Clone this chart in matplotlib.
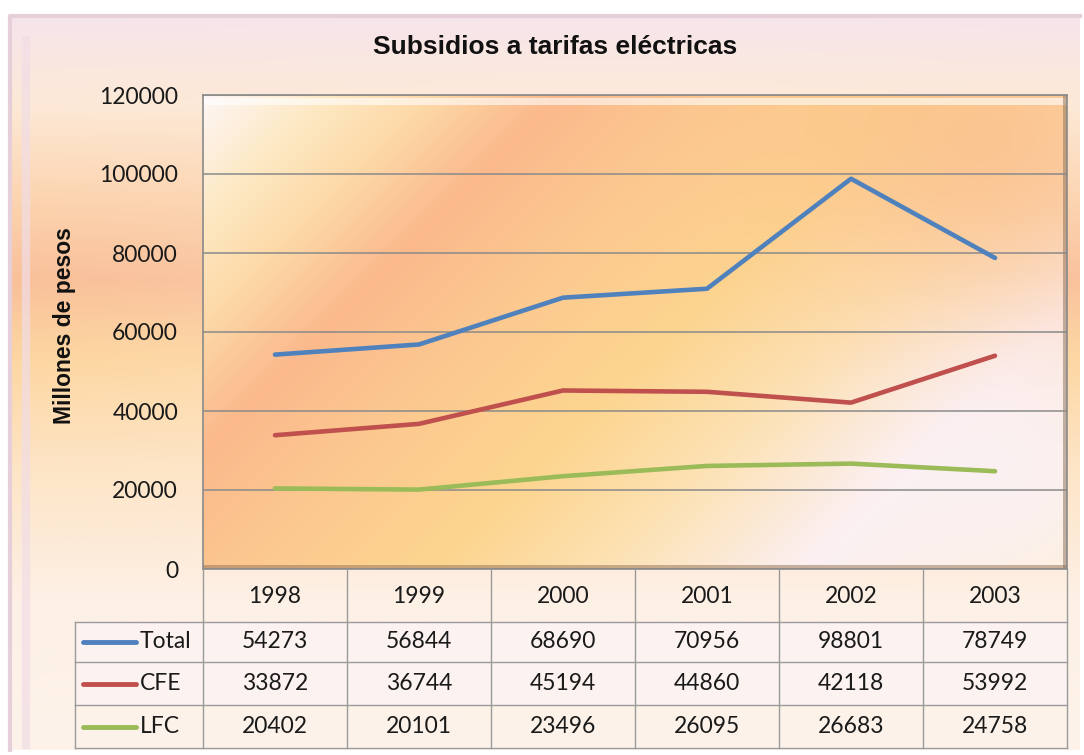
import matplotlib.pyplot as plt
import numpy as np
from matplotlib.colors import to_rgb

years = ["1998", "1999", "2000", "2001", "2002", "2003"]
total = [54273, 56844, 68690, 70956, 98801, 78749]
cfe = [33872, 36744, 45194, 44860, 42118, 53992]
lfc = [20402, 20101, 23496, 26095, 26683, 24758]
series = [("Total", total, "#4f81bd"), ("CFE", cfe, "#c0504d"), ("LFC", lfc, "#9bbb59")]

W, H = 1084, 755
fig = plt.figure(figsize=(W / 100, H / 100), dpi=100)
fig.patch.set_facecolor("white")


def fx(px):
    return px / W


def fy(py):
    return 1 - py / H


def ramp(stops, t):
    pos = [s[0] for s in stops]
    cols = np.array([to_rgb(s[1]) for s in stops])
    return np.stack([np.interp(t, pos, cols[:, i]) for i in range(3)], axis=-1)


def blend(img, gx, gy, cx, cy, rx, ry, col, amt):
    w = amt * np.exp(-(((gx - cx) / rx) ** 2 + ((gy - cy) / ry) ** 2))[..., None]
    return img * (1 - w) + np.array(to_rgb(col)) * w


# outer chart background (vertical gradient)
bg = fig.add_axes([0, 0, 1, 1])
bg.set_xlim(0, W)
bg.set_ylim(H, 0)
bg.set_axis_off()
py, px = np.mgrid[0:H:4, 0:W:4].astype(float)
bg_img = ramp([(0, "#f6e4ec"), (90, "#fde9d6"), (190, "#fcd3ae"), (270, "#f9bf98"),
               (350, "#fdd6a0"), (460, "#fde4c4"), (600, "#fdf0e6"), (755, "#fdf3ea")], py)
bg_img = blend(bg_img, px, py, 600, 300, 330, 260, "#fdf0e4", 0.45)
bg.imshow(bg_img, extent=[10, 1080, 750, 16], aspect="auto", interpolation="bilinear")
bg.plot([10, 10, 1080], [750, 16, 16], color="#e6cfd8", lw=3)
bg.plot([26, 26], [40, 745], color="#f1dde6", lw=6, alpha=0.7)

# plot area
L, R, T, B = 203, 1067, 95, 569
ax = fig.add_axes([fx(L), fy(B), (R - L) / W, (B - T) / H])
gy, gx = np.mgrid[T:B:2, L:R:2].astype(float)
t = ((gx - L) + (gy - T)) / np.sqrt(2)
pa = ramp([(0, "#fdf6f6"), (90, "#fee8c2"), (160, "#fdd9a8"), (250, "#fbb98c"),
           (360, "#fcc890"), (500, "#fdd590"), (620, "#fde2b4"), (760, "#fbf0f3"),
           (950, "#fdf0dc")], t)
pa = blend(pa, gx, gy, 1000, 150, 220, 170, "#fbbd8a", 0.75)
pa = blend(pa, gx, gy, 1010, 470, 120, 110, "#fbf2f7", 0.6)
ax.imshow(pa, extent=[-0.5, 5.5, 0, 120000], aspect="auto", zorder=0, interpolation="bilinear")
# bevel edges
ax.axhspan(117500, 119200, color="white", alpha=0.6, zorder=1, lw=0)
ax.axhspan(0, 1000, color="#9c7a5c", alpha=0.55, zorder=1, lw=0)
ax.axvspan(5.47, 5.5, color="#8a6e58", alpha=0.5, zorder=1, lw=0)

x = np.arange(len(years))
for name, vals, col in series:
    ax.plot(x, vals, color=col, lw=3.3, solid_capstyle="round", zorder=3)

ax.set_xlim(-0.5, 5.5)
ax.set_ylim(0, 120000)
ax.set_yticks(range(0, 120001, 20000))
ax.set_yticklabels([str(v) for v in range(0, 120001, 20000)], fontsize=16.5,
                   fontfamily="Lato", color="#1a1a1a")
ax.tick_params(axis="y", length=0, pad=18)
ax.set_xticks([])
ax.grid(axis="y", color="#8a8a8a", lw=1.1, zorder=2)
for s in ax.spines.values():
    s.set_color("#8a8a8a")
    s.set_linewidth(1.2)

fig.text(fx(555), fy(47), "Subsidios a tarifas eléctricas", ha="center", va="center",
         fontsize=19, fontweight="bold", fontfamily="Liberation Sans", color="#111111")
fig.text(fx(64), fy(326), "Millones de pesos", ha="center", va="center", rotation=90,
         fontsize=16.5, fontweight="bold", fontfamily="Liberation Sans", color="#111111")

# data table below the plot
ta = fig.add_axes([0, 0, 1, 1])
ta.set_xlim(0, W)
ta.set_ylim(H, 0)
ta.set_axis_off()
ta.patch.set_alpha(0)
gc = "#9a9a9a"
col_w = (R - L) / len(years)
row_h = [B, 622, 662, 705, 748]
ta.fill_between([75, R], 622, 705, color="#fcf4f6", alpha=0.6, lw=0)
for yv in row_h[1:]:
    ta.plot([75, R], [yv, yv], color=gc, lw=1)
for k in range(len(years) + 1):
    ta.plot([L + k * col_w] * 2, [B, 748], color=gc, lw=1)
ta.plot([75, 75], [622, 748], color=gc, lw=1)

for k, yr in enumerate(years):
    ta.text(L + (k + 0.5) * col_w, (B + 622) / 2 + 1, yr, ha="center", va="center",
            fontsize=16.5, fontfamily="Lato", color="#1a1a1a")
for r, (name, vals, col) in enumerate(series):
    yc = (row_h[r + 1] + row_h[r + 2]) / 2
    ta.plot([83, 136], [yc, yc], color=col, lw=3.5, solid_capstyle="round")
    ta.text(140, yc, name, ha="left", va="center", fontsize=16.5, fontfamily="Lato",
            color="#1a1a1a")
    for k, vv in enumerate(vals):
        ta.text(L + (k + 0.5) * col_w, yc, str(vv), ha="center", va="center",
                fontsize=16.5, fontfamily="Lato", color="#1a1a1a")

fig.savefig("out.png", dpi=100)
